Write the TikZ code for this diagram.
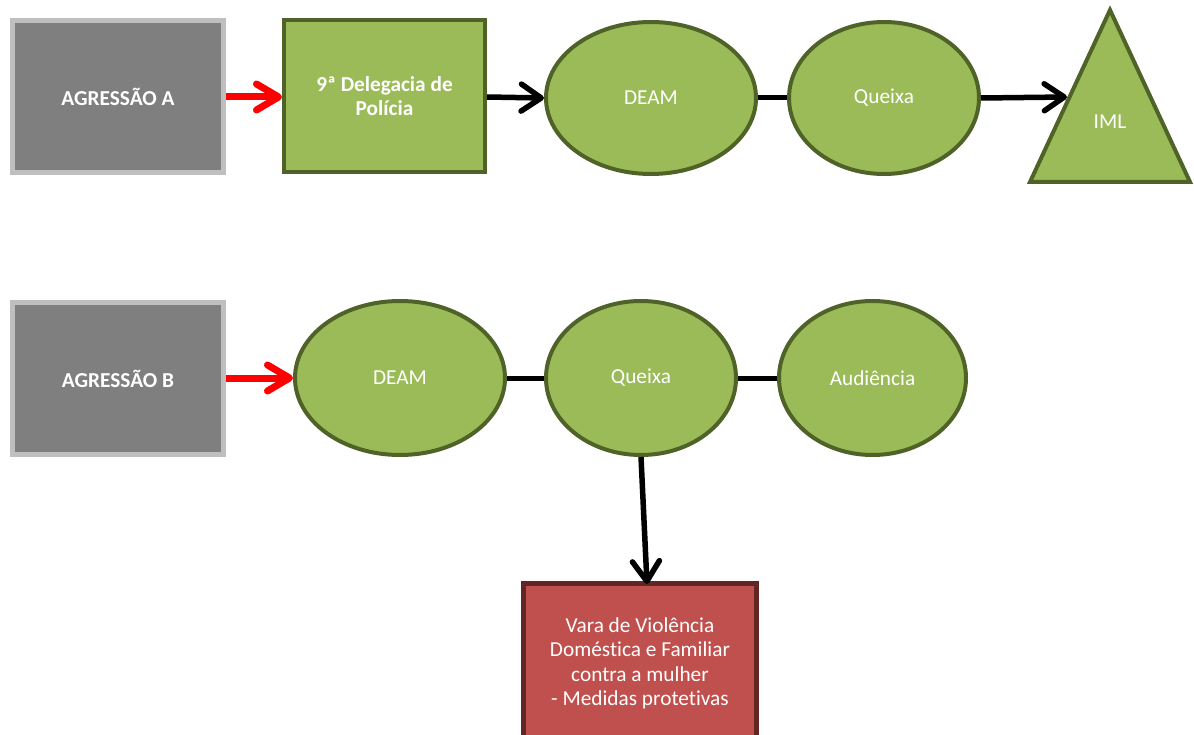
\documentclass[tikz,border=0pt]{standalone}
\usepackage{fontspec}
\setmainfont{Carlito}[Ligatures=NoCommon]
\usetikzlibrary{shapes.geometric,arrows.meta}
\definecolor{boxgray}{HTML}{7F7F7F}
\definecolor{rimgray}{HTML}{BFBFBF}
\definecolor{leaf}{HTML}{9BBB59}
\definecolor{leafrim}{HTML}{4F6228}
\definecolor{brick}{HTML}{C0504D}
\definecolor{brickrim}{HTML}{632523}
\tikzset{
  lbl/.style={text=white,font=\fontsize{21.3}{24.5}\selectfont,align=center,inner sep=0pt},
  grayb/.style={lbl,rectangle,draw=rimgray,fill=boxgray,line width=5pt,minimum width=211pt,minimum height=152pt,font=\fontsize{21.3}{24.5}\selectfont\bfseries},
  greenb/.style={lbl,rectangle,draw=leafrim,fill=leaf,line width=4pt,minimum width=201pt,minimum height=152pt,font=\fontsize{21.3}{24.5}\selectfont\bfseries},
  oval/.style={lbl,ellipse,draw=leafrim,fill=leaf,line width=4pt},
  redb/.style={lbl,rectangle,draw=brickrim,fill=brick,line width=5pt,minimum width=233pt,minimum height=160pt},
  redarrow/.style={line width=7pt,draw=red,-{Straight Barb[length=22pt,width=26pt,round]}},
  blackarrow/.style={line width=5.5pt,draw=black,-{Straight Barb[length=20pt,width=27pt,round]}},
  link/.style={line width=5pt,draw=black}
}
\begin{document}
\begin{tikzpicture}[x=1pt,y=-1pt]
\useasboundingbox (0,0) rectangle (1194,735);

% first row
\node[grayb] (agA) at (118,96.5) {AGRESSÃO A};
\node[greenb] (del) at (384.5,96) {9ª Delegacia de\\Polícia};
\node[oval,minimum width=210pt,minimum height=152pt] (deamA) at (651,98) {DEAM};
\node[oval,minimum width=190pt,minimum height=152pt] (queixaA) at (884,98) {Queixa};
\coordinate (imlTop) at (1110,10);
\coordinate (imlBL) at (1030,182);
\coordinate (imlBR) at (1190,182);
\draw[leafrim,fill=leaf,line width=4pt,line join=miter] (imlTop) -- (imlBL) -- (imlBR) -- cycle;
\node[lbl] (iml) at (1110,122) {IML};
\coordinate (imlIn) at (1067,97);

\draw[redarrow] (agA.east |- 0,97) -- (del.west |- 0,97);
\draw[blackarrow] (del.east |- 0,97) -- (deamA.west);
\draw[link] (deamA.east) -- (queixaA.west);
\draw[blackarrow] (queixaA.east) -- (imlIn);

% second row
\node[grayb] (agB) at (118,378.5) {AGRESSÃO B};
\node[oval,minimum width=210pt,minimum height=154pt] (deamB) at (400,378) {DEAM};
\node[oval,minimum width=190pt,minimum height=154pt] (queixaB) at (641,378) {Queixa};
\node[oval,minimum width=187pt,minimum height=154pt] (aud) at (872.5,378) {Audiência};
\node[redb] (vara) at (640,663.5) {Vara de Violência\\Doméstica e Familiar\\contra a mulher\\- Medidas protetivas};
\coordinate (varaIn) at (647,584);

\draw[redarrow] (agB.east |- 0,378) -- (deamB.west);
\draw[link] (deamB.east) -- (queixaB.west);
\draw[link] (queixaB.east) -- (aud.west);
\draw[blackarrow] (queixaB.south) -- (varaIn);
\end{tikzpicture}
\end{document}
